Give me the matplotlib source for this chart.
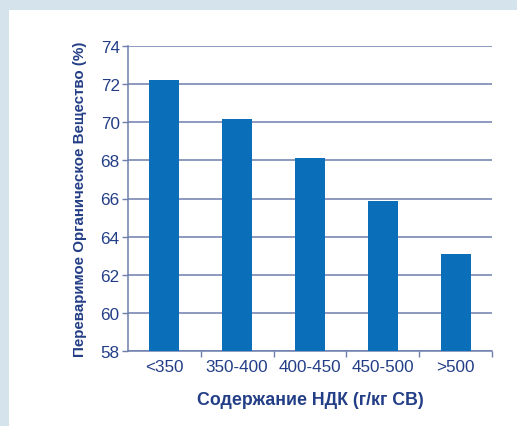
import matplotlib.pyplot as plt
from matplotlib.patches import Rectangle
import numpy as np

categories = ["<350", "350-400", "400-450", "450-500", ">500"]
digestibility = [72.2, 70.15, 68.1, 65.85, 63.1]
yticks = [58, 60, 62, 64, 66, 68, 70, 72, 74]

navy = "#233e86"
grid_col = "#6d7fad"
bar_col = "#0a6eb8"

plt.rcParams['font.family'] = ['Liberation Sans', 'DejaVu Sans']

fig = plt.figure(figsize=(5.17, 4.27), dpi=100)
fig.patch.set_facecolor("#d5e4ec")
# white panel
fig.patches.append(Rectangle((9 / 517, 0), 1, 1 - 11 / 427, transform=fig.transFigure,
                             facecolor="white", edgecolor="none", zorder=-5))

ax = fig.add_axes([128 / 517, 1 - 352 / 427, 364 / 517, 305 / 427])
ax.set_facecolor("none")

x = np.arange(len(categories))
ax.bar(x, digestibility, width=0.41, color=bar_col, zorder=3)

ax.set_ylim(58, 74)
ax.set_xlim(-0.5, 4.5)
ax.set_yticks(yticks)
ax.yaxis.grid(True, color=grid_col, linewidth=1.1, zorder=1)
ax.set_axisbelow(True)

ax.set_xticks(x)
ax.set_xticklabels(categories)
ax.set_xticks(np.arange(0.5, 5, 1), minor=True)
ax.tick_params(axis='x', which='major', length=0, pad=6, labelsize=12.3, labelcolor=navy)
ax.tick_params(axis='x', which='minor', length=4, width=1, color=grid_col, direction='out')
ax.tick_params(axis='y', length=4, width=1, color=grid_col, pad=2, labelsize=12.3, labelcolor=navy)

for s in ["top", "right"]:
    ax.spines[s].set_visible(False)
for s in ["left", "bottom"]:
    ax.spines[s].set_color(grid_col)
    ax.spines[s].set_linewidth(1.1)

ax.set_xlabel("Содержание НДК (г/кг СВ)", fontsize=12.8, fontweight='bold', color=navy, labelpad=12)
ax.set_ylabel("Переваримое Органическое Вещество (%)", fontsize=10.9, fontweight='bold',
              color=navy, labelpad=10)

fig.savefig("out.png", dpi=100, facecolor=fig.get_facecolor())
